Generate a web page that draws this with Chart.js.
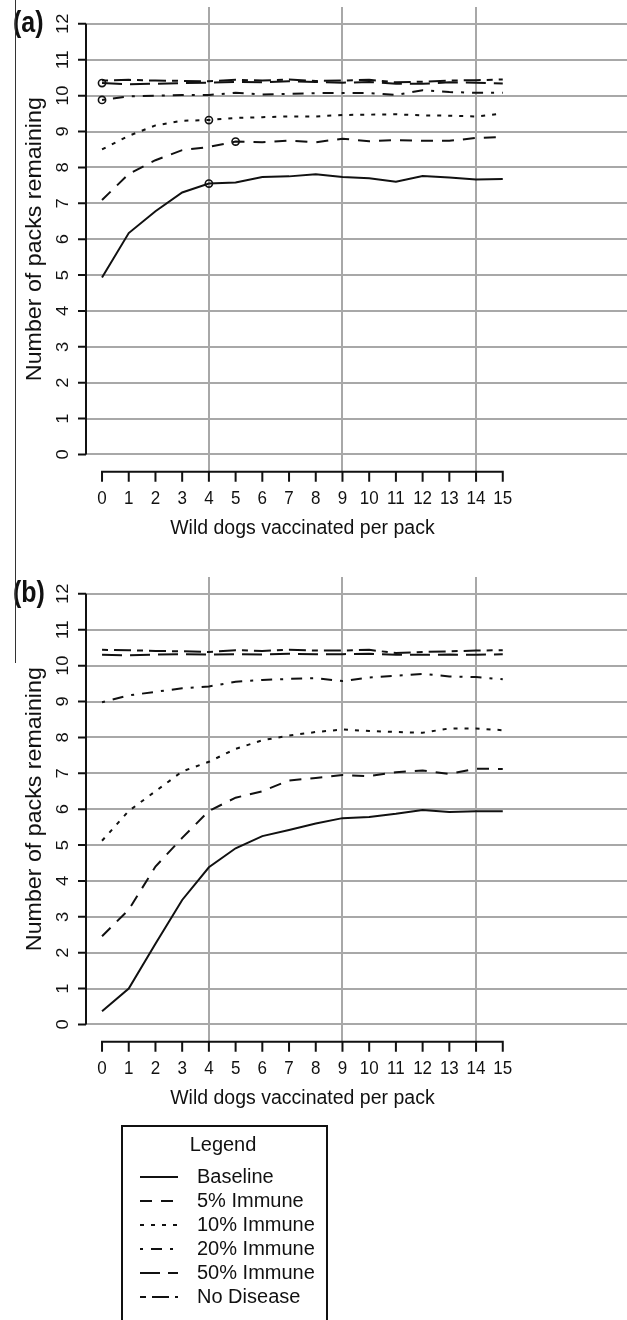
<!DOCTYPE html>
<html lang="en">
<head>
<meta charset="UTF-8">
<title>Wild dog packs remaining</title>
<script src="https://cdn.jsdelivr.net/npm/chart.js"></script>
<style>
  body { margin: 0; width: 627px; height: 1320px; background: #fff; position: relative; overflow: hidden; }
  canvas { position: absolute; left: 0; }
  #chartA { top: 0; }
  #chartB { top: 570px; }
  .edge { position: absolute; left: 15px; top: 0; width: 1px; height: 663px; background: #333; }
</style>
</head>
<body>
<canvas id="chartA" width="627" height="570"></canvas>
<canvas id="chartB" width="627" height="750"></canvas>
<div class="edge"></div>
<script>
// x categories and tick labels
const dogsVaccinated = [0, 1, 2, 3, 4, 5, 6, 7, 8, 9, 10, 11, 12, 13, 14, 15];
const xTicks = [0, 1, 2, 3, 4, 5, 6, 7, 8, 9, 10, 11, 12, 13, 14, 15];
const yTicks = [0, 1, 2, 3, 4, 5, 6, 7, 8, 9, 10, 11, 12];
const xGridAt = [4, 9, 14];
const seriesLabels = ['Baseline', '5% Immune', '10% Immune', '20% Immune', '50% Immune', 'No Disease'];

// panel (a)
const aBaseline  = [4.93, 6.17, 6.78, 7.30, 7.55, 7.58, 7.73, 7.75, 7.81, 7.73, 7.70, 7.60, 7.76, 7.72, 7.66, 7.68];
const a5Immune   = [7.09, 7.82, 8.20, 8.48, 8.57, 8.72, 8.70, 8.75, 8.70, 8.80, 8.73, 8.76, 8.74, 8.74, 8.82, 8.85];
const a10Immune  = [8.50, 8.88, 9.17, 9.30, 9.32, 9.38, 9.40, 9.42, 9.42, 9.46, 9.47, 9.48, 9.45, 9.44, 9.42, 9.50];
const a20Immune  = [9.88, 9.98, 10.00, 10.02, 10.02, 10.08, 10.03, 10.05, 10.07, 10.07, 10.07, 10.02, 10.15, 10.10, 10.08, 10.08];
const a50Immune  = [10.35, 10.32, 10.33, 10.35, 10.36, 10.38, 10.37, 10.40, 10.38, 10.36, 10.38, 10.33, 10.33, 10.37, 10.36, 10.34];
const aNoDisease = [10.42, 10.44, 10.42, 10.41, 10.40, 10.44, 10.42, 10.45, 10.41, 10.42, 10.44, 10.37, 10.39, 10.42, 10.43, 10.45];
// which x value carries the open circle in each series of panel (a)
const aCircleAt  = [4, 5, 4, 0, 0, null];

// panel (b)
const bBaseline  = [0.37, 1.00, 2.25, 3.47, 4.38, 4.91, 5.25, 5.42, 5.60, 5.75, 5.78, 5.87, 5.98, 5.92, 5.94, 5.94];
const b5Immune   = [2.46, 3.20, 4.40, 5.20, 5.95, 6.32, 6.50, 6.80, 6.87, 6.95, 6.92, 7.03, 7.08, 6.98, 7.13, 7.12];
const b10Immune  = [5.12, 5.95, 6.50, 7.05, 7.32, 7.68, 7.92, 8.05, 8.15, 8.22, 8.18, 8.15, 8.13, 8.25, 8.25, 8.20];
const b20Immune  = [8.98, 9.17, 9.27, 9.37, 9.42, 9.55, 9.60, 9.63, 9.65, 9.57, 9.67, 9.72, 9.77, 9.70, 9.68, 9.62];
const b50Immune  = [10.30, 10.29, 10.31, 10.32, 10.31, 10.32, 10.31, 10.33, 10.32, 10.32, 10.33, 10.30, 10.30, 10.31, 10.30, 10.32];
const bNoDisease = [10.44, 10.43, 10.41, 10.40, 10.38, 10.43, 10.41, 10.44, 10.42, 10.42, 10.44, 10.35, 10.38, 10.40, 10.42, 10.43];

const xTitle = 'Wild dogs vaccinated per pack';
const yTitle = 'Number of packs remaining';

const FONT = '"Liberation Sans", Arial, Helvetica, sans-serif';
const INK = '#111';
const GRID = '#a8a8a8';
const STRETCH = 1.08;   // the source figure is a little taller than wide
// R line types: solid, dashed, dotted, dotdash, longdash, twodash
const dashes = [[], [12, 9], [4, 7], [3, 8, 11, 8], [20, 8], [6, 6, 17, 6]];

function makeDatasets(series, circles) {
    return series.map((vals, i) => ({
        label: seriesLabels[i],
        data: vals.map((v, j) => ({ x: dogsVaccinated[j], y: v })),
        borderColor: INK,
        borderWidth: 2,
        borderDash: dashes[i],
        borderCapStyle: 'butt',
        tension: 0,
        fill: false,
        pointRadius: vals.map((_, j) => circles && circles[i] === dogsVaccinated[j] ? 3.6 : 0),
        pointBorderColor: INK,
        pointBorderWidth: 1.6,
        pointBackgroundColor: 'rgba(0,0,0,0)'
    }));
}

// text drawn with a slight stretch along the screen's vertical
function tallText(ctx, text, x, y, rotated) {
    ctx.save();
    ctx.translate(x, y);
    if (rotated) {
        ctx.rotate(-Math.PI / 2);
        ctx.scale(STRETCH, 1);
    } else {
        ctx.scale(1, STRETCH);
    }
    ctx.fillText(text, 0, 0);
    ctx.restore();
}

// R-style axes: detached x axis below the plot, rotated y labels
const rAxes = {
    id: 'rAxes',
    afterDraw(chart, args, opts) {
        const { ctx, chartArea: a, scales: { x, y } } = chart;
        const x0 = x.getPixelForValue(xTicks[0]), x1 = x.getPixelForValue(xTicks[xTicks.length - 1]);
        const y0 = y.getPixelForValue(yTicks[0]), y1 = y.getPixelForValue(yTicks[yTicks.length - 1]);
        ctx.save();
        ctx.strokeStyle = INK;
        ctx.fillStyle = INK;
        ctx.lineWidth = 2;
        ctx.beginPath();
        ctx.moveTo(a.left, y0); ctx.lineTo(a.left, y1);
        yTicks.forEach(v => {
            const p = y.getPixelForValue(v);
            ctx.moveTo(a.left, p); ctx.lineTo(a.left - 8, p);
        });
        ctx.moveTo(x0, a.bottom); ctx.lineTo(x1, a.bottom);
        xTicks.forEach(v => {
            const p = x.getPixelForValue(v);
            ctx.moveTo(p, a.bottom - 1); ctx.lineTo(p, a.bottom + 10);
        });
        ctx.stroke();

        ctx.textAlign = 'center';
        ctx.textBaseline = 'middle';
        ctx.font = '17px ' + FONT;
        xTicks.forEach(v => tallText(ctx, String(v), x.getPixelForValue(v), a.bottom + 27, false));
        yTicks.forEach(v => tallText(ctx, String(v), a.left - 23, y.getPixelForValue(v), true));
        ctx.font = '19.5px ' + FONT;
        tallText(ctx, xTitle, (x0 + x1) / 2, a.bottom + 56, false);
        ctx.font = '21.5px ' + FONT;
        tallText(ctx, yTitle, 35, (y0 + y1) / 2, true);

        ctx.textAlign = 'left';
        ctx.save();
        ctx.translate(13, y1);
        ctx.scale(1, 1.15);
        ctx.font = 'bold 25px ' + FONT;
        ctx.fillText(opts.tag, 0, 0);
        ctx.restore();
        ctx.restore();
    }
};

const rLegend = {
    id: 'rLegend',
    afterDraw(chart) {
        if (!chart.options.plugins.rLegend.show) return;
        const ctx = chart.ctx;
        const left = 122, top = 556, right = 327;
        ctx.save();
        ctx.strokeStyle = INK;
        ctx.fillStyle = INK;
        ctx.lineWidth = 2;
        ctx.strokeRect(left, top, right - left, 220);
        ctx.font = '20px ' + FONT;
        ctx.textBaseline = 'middle';
        ctx.textAlign = 'center';
        ctx.fillText('Legend', 223, top + 19);
        ctx.textAlign = 'left';
        chart.data.datasets.forEach((ds, i) => {
            const yy = top + 51 + i * 24;
            ctx.setLineDash(ds.borderDash);
            ctx.beginPath();
            ctx.moveTo(140, yy); ctx.lineTo(178, yy);
            ctx.stroke();
            ctx.setLineDash([]);
            ctx.fillText(ds.label, 197, yy);
        });
        ctx.restore();
    }
};

function makeOptions(tag, bottomPad, legend) {
    return {
        responsive: false,
        animation: false,
        layout: { autoPadding: false, padding: { left: 86, top: 7, right: 0, bottom: bottomPad } },
        plugins: {
            legend: { display: false },
            tooltip: { enabled: false },
            rAxes: { tag: tag },
            rLegend: { show: legend }
        },
        scales: {
            x: {
                type: 'linear', min: -0.6, max: 19.65,
                ticks: { display: false },
                border: { display: false },
                grid: {
                    drawTicks: false, lineWidth: 2,
                    color: c => (c.tick && xGridAt.includes(c.tick.value)) ? GRID : 'rgba(0,0,0,0)'
                },
                afterBuildTicks: s => { s.ticks = xTicks.map(v => ({ value: v })); }
            },
            y: {
                type: 'linear', min: -0.48, max: 12.47,
                ticks: { display: false },
                border: { display: false },
                grid: { drawTicks: false, lineWidth: 2, color: GRID },
                afterBuildTicks: s => { s.ticks = yTicks.map(v => ({ value: v })); }
            }
        }
    };
}

new Chart(document.getElementById('chartA'), {
    type: 'line',
    data: { datasets: makeDatasets([aBaseline, a5Immune, a10Immune, a20Immune, a50Immune, aNoDisease], aCircleAt) },
    options: makeOptions('(a)', 98.3, false),
    plugins: [rAxes, rLegend]
});

new Chart(document.getElementById('chartB'), {
    type: 'line',
    data: { datasets: makeDatasets([bBaseline, b5Immune, b10Immune, b20Immune, b50Immune, bNoDisease], null) },
    options: makeOptions('(b)', 278.3, true),
    plugins: [rAxes, rLegend]
});
</script>
</body>
</html>
